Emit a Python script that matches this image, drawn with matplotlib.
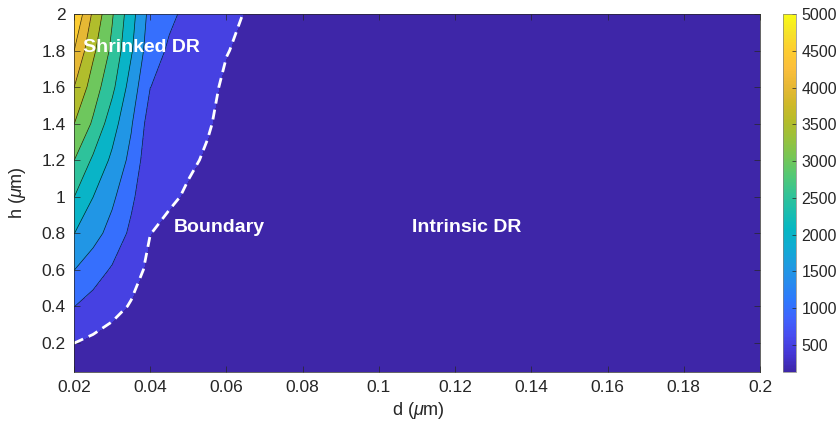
import numpy as np
import matplotlib
matplotlib.use("Agg")
import matplotlib.pyplot as plt
from matplotlib.colors import LinearSegmentedColormap, Normalize
from matplotlib.cm import ScalarMappable
from matplotlib.ticker import FuncFormatter

plt.rcParams["font.family"] = ["Liberation Sans", "DejaVu Sans"]
plt.rcParams["mathtext.fontset"] = "custom"
plt.rcParams["mathtext.it"] = "Liberation Sans:italic"

# grid
d_um = [0.02, 0.025, 0.03, 0.035, 0.04, 0.045, 0.05, 0.055, 0.06, 0.065, 0.07, 0.08, 0.1, 0.15, 0.2]
h_um = [0.04, 0.2, 0.4, 0.6, 0.8, 1.0, 1.2, 1.4, 1.6, 1.8, 2.0]

# one row per h value (bottom to top)
v_h004 = [140, 138, 136, 135, 134, 133, 132, 132, 131, 131, 131, 131, 130, 130, 130]
v_h02 = [505, 405, 305, 260, 230, 210, 200, 190, 185, 180, 175, 170, 160, 145, 138]
v_h04 = [1010, 821, 643, 465, 390, 345, 320, 300, 285, 270, 260, 230, 185, 150, 140]
v_h06 = [1510, 1220, 950, 670, 405, 370, 345, 325, 310, 295, 280, 245, 195, 155, 142]
v_h08 = [2010, 1690, 1320, 900, 505, 430, 390, 360, 340, 320, 300, 260, 205, 160, 144]
v_h10 = [2510, 2005, 1600, 1100, 600, 540, 470, 425, 390, 360, 330, 275, 215, 165, 146]
v_h12 = [3010, 2420, 1900, 1360, 640, 590, 535, 475, 430, 390, 350, 290, 225, 170, 148]
v_h14 = [3510, 2930, 2220, 1550, 764, 683, 601, 520, 440, 400, 360, 300, 235, 175, 150]
v_h16 = [4010, 3260, 2625, 1780, 1005, 861, 722, 583, 445, 410, 375, 315, 245, 180, 152]
v_h18 = [4510, 3600, 2890, 2060, 1200, 940, 812, 668, 512, 440, 400, 330, 255, 185, 155]
v_h20 = [4990, 3910, 3050, 2200, 1330, 1080, 900, 770, 620, 480, 430, 350, 270, 190, 160]

levels = [0, 500, 1000, 1500, 2000, 2500, 3000, 3500, 4000, 4500, 5000]
cbar_ticks = [500, 1000, 1500, 2000, 2500, 3000, 3500, 4000, 4500, 5000]
v_min, v_max = 130, 5000

parula = LinearSegmentedColormap.from_list("parula", [
    (0.2422, 0.1504, 0.6603), (0.2706, 0.2147, 0.8364), (0.2810, 0.2973, 0.9395),
    (0.2470, 0.3910, 0.9960), (0.1786, 0.4738, 0.9913), (0.1540, 0.5461, 0.9312),
    (0.1185, 0.6107, 0.8782), (0.0590, 0.6745, 0.8220), (0.0258, 0.7176, 0.7618),
    (0.1106, 0.7437, 0.6781), (0.2081, 0.7663, 0.5786), (0.3290, 0.7860, 0.4540),
    (0.4611, 0.7768, 0.3353), (0.5908, 0.7597, 0.2420), (0.7070, 0.7385, 0.1637),
    (0.8126, 0.7237, 0.1628), (0.9078, 0.7210, 0.2064), (0.9856, 0.7472, 0.2340),
    (0.9935, 0.8016, 0.1885), (0.9653, 0.8872, 0.1613), (0.9769, 0.9839, 0.0805),
])

D, H = np.meshgrid(d_um, h_um)
V = np.array([v_h004, v_h02, v_h04, v_h06, v_h08, v_h10, v_h12, v_h14, v_h16, v_h18, v_h20])

fig = plt.figure(figsize=(8.36, 4.23), dpi=100)
ax = fig.add_axes([74 / 836, 51 / 423, 686 / 836, 358 / 423])
cax = fig.add_axes([783 / 836, 51 / 423, 13 / 836, 358 / 423])

norm = Normalize(v_min, v_max)
# matlab colours each band by its lower level
band_colors = [parula(norm(max(lv, v_min))) for lv in levels[:-1]]
ax.contourf(D, H, V, levels=levels, colors=band_colors)
ax.contour(D, H, V, levels=levels[2:-1], colors="k", linewidths=0.5, alpha=0.8)
cs = ax.contour(D, H, V, levels=[500], colors="w", linewidths=2.0)
cs.set_linestyle((0, (3.6, 2.2)))

ax.text(0.0224, 1.79, "Shrinked DR", color="w", fontsize=14, fontweight="bold")
ax.text(0.0462, 0.805, "Boundary", color="w", fontsize=14, fontweight="bold")
ax.text(0.1087, 0.805, "Intrinsic DR", color="w", fontsize=14, fontweight="bold")

ax.set_xlim(0.02, 0.2)
ax.set_ylim(0.04, 2)
ax.set_xticks(np.arange(0.02, 0.2001, 0.02))
ax.set_yticks(np.arange(0.2, 2.001, 0.2))
fmt = FuncFormatter(lambda v, p: "%g" % round(v, 3))
ax.xaxis.set_major_formatter(fmt)
ax.yaxis.set_major_formatter(fmt)
ax.tick_params(direction="in", length=4, width=0.5, top=True, right=True,
               labelsize=12.5, colors="#262626", pad=6)
for sp in ax.spines.values():
    sp.set_linewidth(0.5)
    sp.set_color("#262626")

fig.text(418 / 836, 1 - 410 / 423, r"d ($\mu$m)", ha="center", va="center",
         fontsize=13, color="#262626")
fig.text(18 / 836, 1 - 193 / 423, r"h ($\mu$m)", ha="center", va="center",
         rotation=90, fontsize=13, color="#262626")

cb = fig.colorbar(ScalarMappable(norm=norm, cmap=parula), cax=cax, ticks=cbar_ticks)
cb.outline.set_linewidth(0.5)
cb.outline.set_edgecolor("#808080")
cax.tick_params(direction="in", length=3, width=0.5, labelsize=11.5, colors="#262626", pad=4)

fig.savefig("out.png", dpi=100)
